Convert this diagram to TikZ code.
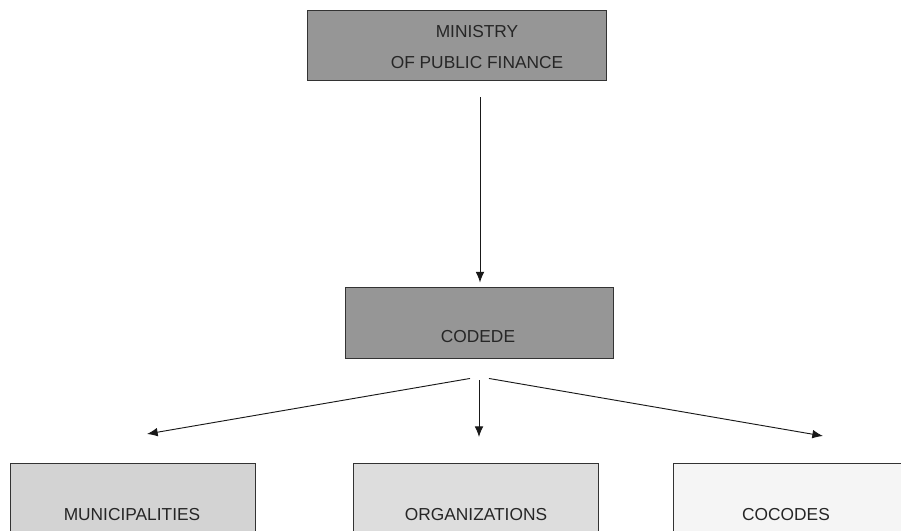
\documentclass[tikz,border=0pt]{standalone}
\usepackage{fontspec}
\setmainfont{Liberation Sans}
\usetikzlibrary{arrows.meta}

\definecolor{boxdark}{RGB}{150,150,150}
\definecolor{boxmuni}{RGB}{211,211,211}
\definecolor{boxorg}{RGB}{221,221,221}
\definecolor{boxcoco}{RGB}{245,245,245}

\tikzset{
	box/.style={draw=black!80, line width=0.7pt, rectangle, inner sep=0pt},
	lbl/.style={font=\fontsize{13}{23.5}\selectfont, text=black!85, inner sep=0pt, align=center},
	arr/.style={-{Latex[length=8pt,width=6.5pt]}, line width=0.7pt, black!90}
}

\begin{document}
\begin{tikzpicture}[x=0.75pt, y=-0.75pt]
		\useasboundingbox (0,0) rectangle (901,531);
		\clip (0,0) rectangle (901,531);
		
		% Ministry
		\node[box, fill=boxdark, minimum width=224.25pt, minimum height=52.5pt] (ministry) at (456.5,45) {};
		\node[lbl] (ministrytxt) at (477,47) {MINISTRY\\OF PUBLIC FINANCE};
		
		% Codede
		\node[box, fill=boxdark, minimum width=201pt, minimum height=53.25pt] (codede) at (479,322.5) {};
		\node[lbl] (codedetxt) at (478,337) {CODEDE};
		
		% Bottom row
		\node[box, fill=boxmuni, minimum width=183.75pt, minimum height=53.25pt] (muni) at (132.5,498.5) {};
		\node[box, fill=boxorg, minimum width=183.75pt, minimum height=53.25pt] (org) at (475.5,498.5) {};
		\node[box, fill=boxcoco, minimum width=183.75pt, minimum height=53.25pt] (cocodes) at (795.5,498.5) {};
		\node[lbl] (munitxt) at (132,515) {MUNICIPALITIES};
		\node[lbl] (orgtxt) at (476,515) {ORGANIZATIONS};
		\node[lbl] (cocodestxt) at (786,515) {COCODES};
		
		% Arrows
		\coordinate (muniTip) at (147,434);
		\coordinate (orgTip) at (479,437);
		\coordinate (cocoTip) at (823,436);
		\draw[arr] (ministry.south -| 480,0) ++(0,17) -- ([yshift=3pt]codede.north -| 480,0);
		\draw[arr] ([yshift=-15pt]codede.south -| 470,0) -- (muniTip);
		\draw[arr] ([yshift=-16.5pt]codede.south -| orgTip) -- (orgTip);
		\draw[arr] ([yshift=-15pt]codede.south -| 489,0) -- (cocoTip);
\end{tikzpicture}
\end{document}
